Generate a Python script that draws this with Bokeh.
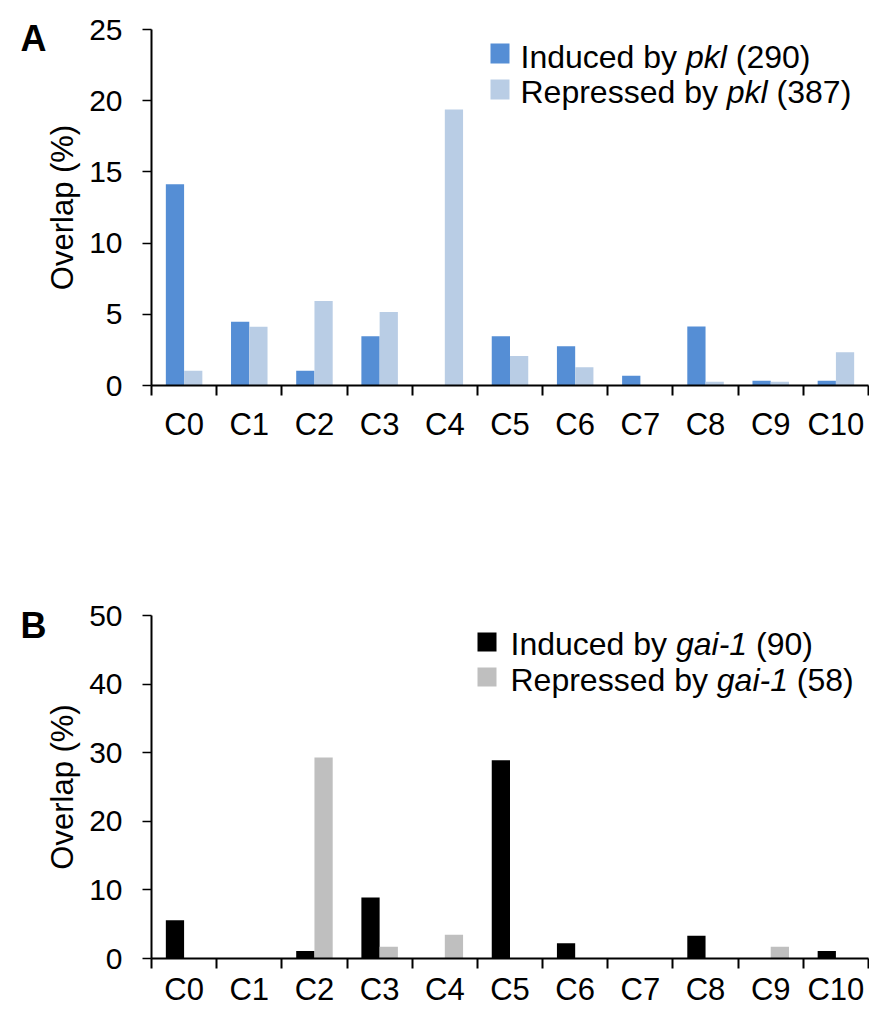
from bokeh.plotting import figure
from bokeh.models import Range1d, FixedTicker, Label, BoxAnnotation, ColumnDataSource, LinearAxis
from bokeh.transform import dodge
from bokeh.layouts import column
from bokeh.embed import file_html
from bokeh.resources import INLINE

# ---------------- data ----------------
clusters = ["C0", "C1", "C2", "C3", "C4", "C5", "C6", "C7", "C8", "C9", "C10"]

pkl_induced = [14.14, 4.48, 1.03, 3.45, 0.0, 3.45, 2.76, 0.69, 4.14, 0.34, 0.34]
pkl_repressed = [1.03, 4.13, 5.94, 5.17, 19.38, 2.07, 1.29, 0.0, 0.26, 0.26, 2.33]

gai_induced = [5.56, 0.0, 1.11, 8.89, 0.0, 28.89, 2.22, 0.0, 3.33, 0.0, 1.11]
gai_repressed = [0.0, 0.0, 29.31, 1.72, 3.45, 0.0, 0.0, 0.0, 0.0, 1.72, 0.0]

a_yticks = [0, 5, 10, 15, 20, 25]
b_yticks = [0, 10, 20, 30, 40, 50]

a_legend = [["Induced by ", "pkl", " (290)"], ["Repressed by ", "pkl", " (387)"]]
b_legend = [["Induced by ", "gai-1", " (90)"], ["Repressed by ", "gai-1", " (58)"]]

# ---------------- style ----------------
FONT = "Liberation Sans"
ARIAL = {" ": 278, "I": 278, "n": 556, "d": 556, "u": 556, "c": 500, "e": 556,
         "b": 556, "y": 500, "p": 556, "k": 500, "l": 222, "(": 333, ")": 333,
         "R": 722, "r": 333, "s": 500, "g": 556, "a": 556, "i": 222, "-": 333}
for dgt in "0123456789":
    ARIAL[dgt] = 556


def tw(s, size):
    return sum(ARIAL.get(ch, 556) for ch in s) * size / 1000.0


def make_panel(letter, letter_y, induced, repressed, c_ind, c_rep, yticks, legend_rows,
               height, top, bottom, x_standoff, sq_geom, txt_geom):
    xs = list(range(len(clusters)))
    p = figure(width=869, height=height,
               x_range=Range1d(-0.5, len(clusters) - 0.5),
               y_range=Range1d(yticks[0], yticks[-1]),
               output_backend="svg", toolbar_location=None,
               min_border_left=151, min_border_right=1,
               min_border_top=top, min_border_bottom=bottom)
    p.outline_line_color = None
    p.xgrid.visible = False
    p.ygrid.visible = False
    p.background_fill_color = "white"
    p.border_fill_color = "white"

    src = ColumnDataSource(dict(x=xs, ind=induced, rep=repressed))
    p.vbar(x=dodge("x", -0.14, range=p.x_range), top="ind", width=0.28,
           source=src, fill_color=c_ind, line_color=None)
    p.vbar(x=dodge("x", 0.14, range=p.x_range), top="rep", width=0.28,
           source=src, fill_color=c_rep, line_color=None)

    xa = p.xaxis[0]
    xa.ticker = FixedTicker(ticks=xs, minor_ticks=[i - 0.5 for i in range(len(clusters) + 1)])
    xa.major_label_overrides = {i: c for i, c in enumerate(clusters)}
    xa.major_tick_line_color = None
    xa.major_tick_out = 0
    xa.major_tick_in = 0
    xa.minor_tick_line_color = "black"
    xa.minor_tick_line_width = 2
    xa.minor_tick_out = 10
    xa.minor_tick_in = 0
    xa.axis_line_color = "black"
    xa.axis_line_width = 2
    xa.major_label_text_font = FONT
    xa.major_label_text_font_size = "31px"
    xa.major_label_text_color = "black"
    xa.major_label_standoff = x_standoff

    ya = p.yaxis[0]
    ya.ticker = FixedTicker(ticks=yticks, minor_ticks=[])
    ya.major_tick_out = 9
    ya.major_tick_in = 0
    ya.major_tick_line_width = 1.5
    ya.major_tick_line_color = "black"
    ya.minor_tick_line_color = None
    ya.axis_line_color = "black"
    ya.axis_line_width = 2
    ya.major_label_text_font = FONT
    ya.major_label_text_font_size = "30px"
    ya.major_label_text_color = "black"
    ya.major_label_standoff = 20
    ya.axis_label = "Overlap (%)"
    ya.axis_label_text_font = FONT
    ya.axis_label_text_font_size = "31px"
    ya.axis_label_text_font_style = "normal"
    ya.axis_label_text_color = "black"
    ya.axis_label_standoff = 6

    # panel letter, drawn as the single label of an outer, line-less left axis
    la = LinearAxis(ticker=FixedTicker(ticks=[letter_y], minor_ticks=[]),
                    major_label_overrides={letter_y: letter},
                    axis_line_color=None, major_tick_line_color=None,
                    minor_tick_line_color=None, major_tick_out=0, major_tick_in=0,
                    major_label_standoff=-4,
                    major_label_text_font=FONT, major_label_text_font_size="36px",
                    major_label_text_font_style="bold", major_label_text_color="black")
    p.add_layout(la, "left")

    # legend
    colors = [c_ind, c_rep]
    size = 32
    for row, col, (l, r, t, b), (x0, yb) in zip(legend_rows, colors, sq_geom, txt_geom):
        p.add_layout(BoxAnnotation(left=l, right=r, top=t, bottom=b,
                                   left_units="screen", right_units="screen",
                                   top_units="screen", bottom_units="screen",
                                   fill_color=col, fill_alpha=1.0, line_color=None))
        x = x0
        for k, seg in enumerate(row):
            style = "italic" if k == 1 else "normal"
            lead = len(seg) - len(seg.lstrip())
            p.add_layout(Label(text=seg.strip(), x=x + tw(seg[:lead], size), y=yb,
                               x_units="screen", y_units="screen",
                               text_font=FONT, text_font_size=f"{size}px",
                               text_font_style=style, text_color="black",
                               text_baseline="alphabetic", text_align="left"))
            x += tw(seg, size)
    return p


pA = make_panel("A", 24.4, pkl_induced, pkl_repressed, "#558ED5", "#B9CDE5", a_yticks, a_legend,
                height=595, top=29, bottom=210, x_standoff=11,
                sq_geom=[(339, 358, 342, 322), (339, 358, 306, 286)],
                txt_geom=[(369, 329), (369, 294)])

pB = make_panel("B", 48.55, gai_induced, gai_repressed, "#000000", "#BFBFBF", b_yticks, b_legend,
                height=414, top=20, bottom=50, x_standoff=3,
                sq_geom=[(326, 345, 326, 307), (326, 345, 291, 272)],
                txt_geom=[(359, 315), (359, 279)])

layout = column(pA, pB)
open("out.html", "w").write(file_html(layout, INLINE))
